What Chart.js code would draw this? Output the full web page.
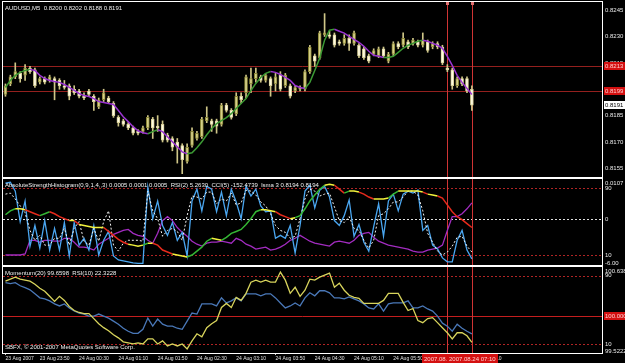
<!DOCTYPE html>
<html>
<head>
<meta charset="utf-8">
<script src="https://cdn.jsdelivr.net/npm/chart.js@4.4.0/dist/chart.umd.min.js"></script>
<style>
    html, body { margin: 0; padding: 0; background: #000; }
    #cadre { position: relative; width: 625px; height: 363px; background: #000; overflow: hidden; }
    canvas { position: absolute; left: 0; }
</style>
</head>
<body>
<div id="cadre">
    <canvas id="grPrix" width="625" height="178" style="top:0px"></canvas>
    <canvas id="grForce" width="625" height="88" style="top:178px"></canvas>
    <canvas id="grMomentum" width="625" height="97" style="top:266px"></canvas>
</div>
<script>
// ==========================================================================
//   Données lues sur la capture MT4 (AUDUSD M5, 23-24 août 2007)
// ==========================================================================

const heures = [
    '23:15','23:20','23:25','23:30','23:35','23:40','23:45','23:50','23:55',
    '00:00','00:05','00:10','00:15','00:20','00:25','00:30','00:35','00:40','00:45','00:50','00:55',
    '01:00','01:05','01:10','01:15','01:20','01:25','01:30','01:35','01:40','01:45','01:50','01:55',
    '02:00','02:05','02:10','02:15','02:20','02:25','02:30','02:35','02:40','02:45','02:50','02:55',
    '03:00','03:05','03:10','03:15','03:20','03:25','03:30','03:35','03:40','03:45','03:50','03:55',
    '04:00','04:05','04:10','04:15','04:20','04:25','04:30','04:35','04:40','04:45','04:50','04:55',
    '05:00','05:05','05:10','05:15','05:20','05:25','05:30','05:35','05:40','05:45','05:50','05:55',
    '06:00','06:05','06:10','06:15','06:20','06:25','06:30','06:35','06:40','06:45','06:50','06:55',
    '07:00','07:05','07:10'
];
const barresVides = 26;   // place libre à droite de la dernière bougie

const ouvertures = [
    .8197,.8203,.8207,.8209,.8208,.8212,.8211,.8204,.8206,.8205,.8206,.8205,.8202,.8202,.8200,.8199,
    .8196,.8199,.8196,.8190,.8194,.8195,.8192,.8184,.8182,.8180,.8178,.8176,.8176,.8178,.8183,.8179,
    .8180,.8174,.8172,.8170,.8168,.8159,.8168,.8172,.8173,.8182,.8182,.8182,.8180,.8191,.8188,.8186,
    .8196,.8198,.8203,.8206,.8207,.8205,.8206,.8203,.8208,.8202,.8202,.8199,.8200,.8200,.8210,.8219,
    .8218,.8231,.8231,.8231,.8227,.8226,.8229,.8226,.8225,.8223,.8219,.8220,.8219,.8223,.8216,.8220,
    .8226,.8225,.8227,.8226,.8227,.8225,.8227,.8224,.8226,.8224,.8212,.8211,.8202,.8206,.8206,.8200
];
const plusHauts = [
    .8203,.8208,.8215,.8210,.8214,.8213,.8212,.8207,.8207,.8208,.8207,.8206,.8205,.8203,.8202,.8200,
    .8198,.8200,.8197,.8195,.8200,.8196,.8193,.8185,.8183,.8181,.8179,.8177,.8179,.8185,.8184,.8185,
    .8182,.8175,.8173,.8172,.8169,.8169,.8178,.8176,.8184,.8190,.8183,.8183,.8192,.8192,.8189,.8198,
    .8198,.8208,.8212,.8212,.8208,.8209,.8207,.8209,.8210,.8209,.8203,.8202,.8202,.8211,.8225,.8220,
    .8233,.8243,.8233,.8232,.8228,.8231,.8231,.8233,.8226,.8224,.8220,.8223,.8224,.8224,.8221,.8227,
    .8227,.8232,.8228,.8229,.8228,.8232,.8228,.8227,.8227,.8225,.8214,.8212,.8207,.8207,.8207,.8202
];
const plusBas = [
    .8196,.8202,.8206,.8204,.8205,.8209,.8201,.8203,.8203,.8204,.8194,.8200,.8200,.8194,.8197,.8195,
    .8194,.8196,.8188,.8189,.8193,.8192,.8184,.8179,.8179,.8177,.8174,.8174,.8175,.8177,.8172,.8176,
    .8170,.8170,.8165,.8158,.8152,.8158,.8167,.8171,.8172,.8181,.8176,.8175,.8179,.8187,.8183,.8185,
    .8192,.8195,.8198,.8204,.8204,.8204,.8196,.8199,.8199,.8201,.8195,.8198,.8199,.8199,.8209,.8213,
    .8217,.8230,.8229,.8224,.8225,.8225,.8222,.8225,.8218,.8217,.8215,.8219,.8218,.8218,.8215,.8219,
    .8223,.8224,.8223,.8225,.8224,.8224,.8221,.8223,.8223,.8214,.8210,.8200,.8201,.8202,.8198,.8188
];
const clotures = [
    .8202,.8207,.8210,.8206,.8212,.8210,.8202,.8206,.8204,.8207,.8204,.8202,.8201,.8196,.8198,.8196,
    .8195,.8197,.8193,.8194,.8198,.8193,.8185,.8181,.8180,.8178,.8175,.8175,.8178,.8184,.8178,.8178,
    .8171,.8171,.8167,.8167,.8160,.8167,.8176,.8175,.8183,.8184,.8180,.8179,.8191,.8188,.8184,.8196,
    .8194,.8207,.8206,.8209,.8205,.8208,.8202,.8207,.8200,.8208,.8196,.8201,.8201,.8210,.8224,.8216,
    .8232,.8232,.8230,.8225,.8226,.8229,.8226,.8232,.8219,.8218,.8216,.8222,.8223,.8219,.8220,.8226,
    .8224,.8229,.8224,.8228,.8225,.8228,.8222,.8226,.8224,.8215,.8211,.8202,.8206,.8203,.8199,.8191
];
// moyenne colorée (vert = hausse, violet = baisse)
const moyenneMobile = [
    .82010,.82050,.82079,.82096,.82107,.82113,.82107,.82079,.82061,.82050,.82044,.82039,.82027,.82010,.81993,.81976,
    .81964,.81959,.81947,.81930,.81924,.81919,.81913,.81879,.81844,.81816,.81787,.81764,.81753,.81747,.81759,.81770,
    .81759,.81730,.81701,.81673,.81644,.81633,.81639,.81667,.81701,.81741,.81776,.81804,.81821,.81839,.81861,.81890,
    .81919,.81947,.81993,.82033,.82067,.82090,.82101,.82096,.82084,.82067,.82050,.82021,.82010,.82004,.82039,.82107,
    .82176,.82279,.82336,.82341,.82330,.82319,.82301,.82284,.82267,.82244,.82216,.82193,.82187,.82181,.82181,.82187,
    .82210,.82233,.82250,.82261,.82273,.82279,.82273,.82261,.82250,.82233,.82187,.82136,.82079,.82039,.82004,.81970
];
const ticksPrix = [0.8155, 0.8170, 0.8185, 0.8200, 0.8215, 0.8230, 0.8245];
const niveauxPrix = [0.8213, 0.8199];
const prixActuel = 0.8191;

// fenêtre 2 : RSI(2), CCI(5), histogramme de force (lissé), courbe violette
const rsi2 = [
    95.9,97.1,86.5,50.0,74.7,20.6,45.3,18.2,51.2,15.9,41.8,15.9,48.8,8.8,48.8,21.8,
    30.0,15.9,45.3,10.0,27.6,38.2,8.8,4.1,2.9,1.8,0.6,0,0,91.2,53.5,74.7,
    45.3,33.5,48.8,27.6,37.1,8.8,74.7,88.8,62.9,92.4,88.8,61.8,85.3,57.1,88.8,73.5,
    53.5,92.4,80.6,88.8,68.8,61.8,62.9,30.0,33.5,30.0,45.3,12.4,45.3,86.5,93.5,66.5,
    87.6,92.4,79.4,51.2,45.3,57.1,75.9,32.4,46.5,25.3,14.7,44.1,71.2,32.4,74.7,82.9,
    62.9,82.9,86.5,84.1,87.6,39.4,45.3,21.8,17.1,6.5,1.8,1.8,27.6,39.4,15.9,5.3
];
const cci5 = [
    82.9,84.1,77.1,68.8,60.6,39.4,27.6,33.5,21.8,21.8,30.0,30.0,41.8,21.8,41.8,50.0,
    26.5,21.8,41.8,26.5,50.0,62.9,21.8,14.7,24.1,27.6,27.6,27.6,26.5,86.5,62.9,53.5,
    32.4,39.4,41.8,38.2,27.6,57.1,80.6,79.4,77.1,85.3,85.3,71.2,77.1,74.7,84.1,70.0,
    72.4,87.6,86.5,81.8,73.5,68.8,59.4,45.3,39.4,37.1,30.0,32.4,53.5,77.1,88.8,86.5,
    80.6,82.9,84.1,67.6,51.2,48.8,55.9,41.8,39.4,27.6,18.2,27.6,57.1,59.4,65.3,73.5,
    73.5,79.4,86.5,86.5,81.8,62.9,35.9,25.3,14.7,10.0,13.5,20.6,31.2,32.4,20.6,13.5
];
const forceLissee = [
    58.2,62.9,65.3,65.3,64.1,61.8,59.4,57.1,59.4,61.8,59.4,55.9,53.5,51.2,51.2,46.5,
    45.3,44.1,42.9,42.9,42.9,38.2,33.5,28.8,25.3,22.9,21.8,20.6,21.8,24.1,24.1,21.8,
    15.9,13.5,11.2,10.0,8.8,7.6,10.0,14.7,19.4,26.5,30.0,28.8,27.6,31.2,35.9,38.2,
    40.6,46.5,53.5,61.8,64.1,64.1,62.9,61.8,58.2,55.9,53.5,54.7,57.1,65.3,74.7,81.8,
    88.8,93.5,94.7,93.5,88.8,84.1,86.5,86.5,85.3,82.9,79.4,77.1,77.1,77.1,78.2,82.9,
    86.5,86.5,86.5,86.5,86.5,85.3,82.9,81.8,80.6,78.2,70.0,61.8,55.9,52.4,47.6,42.9
];
const courbeViolette = [
    10.0,10.0,10.0,10.0,11.2,27.6,27.6,25.3,27.6,27.6,26.5,26.5,30.0,30.0,25.3,19.4,
    19.4,18.2,15.9,22.9,26.5,30.0,34.7,37.1,39.4,40.6,35.9,33.5,32.4,27.6,24.1,35.9,
    51.2,55.9,51.2,42.9,37.1,32.4,26.5,22.9,20.6,24.1,25.3,25.3,26.5,25.3,24.1,30.0,
    27.6,22.9,20.6,17.1,18.2,19.4,15.9,17.1,19.4,22.9,27.6,30.0,33.5,30.0,26.5,24.1,
    22.9,21.8,20.6,25.3,26.5,25.3,24.1,27.6,33.5,35.9,37.1,31.2,26.5,24.1,21.8,20.6,
    19.4,18.2,17.1,14.7,13.5,13.5,15.9,17.1,18.2,21.8,39.4,55.9,55.9,59.4,65.3,72.4
];
const ticksForce = [90, 53, 10];
const libellesForce = ['90', '0', '10'];
const extremesForce = ['0.0107', '-6.00'];

// fenêtre 3 : Momentum(20) et RSI(10)
const momentum20 = [
    100.455,100.481,100.507,100.481,100.468,100.455,100.415,100.363,100.323,100.258,100.192,100.258,100.205,100.126,100.074,100.048,
    100.034,100.034,99.969,99.903,99.851,99.811,99.759,99.719,99.667,99.654,99.640,99.654,99.640,99.706,99.706,99.640,
    99.680,99.614,99.640,99.614,99.640,99.575,99.680,99.772,99.733,99.851,99.903,99.943,100.113,100.166,100.113,100.245,
    100.205,100.297,100.442,100.468,100.442,100.468,100.442,100.442,100.573,100.468,100.297,100.376,100.258,100.337,100.481,100.468,
    100.507,100.534,100.560,100.376,100.429,100.337,100.271,100.245,100.232,100.166,100.166,100.166,100.166,100.205,100.297,100.297,
    100.297,100.179,100.074,100.100,99.943,99.916,99.969,99.982,99.916,99.851,99.785,99.706,99.785,99.785,99.746,99.660
];
const rsi10 = [
    81.8,80.6,81.8,78.2,75.9,73.5,68.8,64.1,62.9,60.6,57.1,54.7,57.1,52.4,48.8,46.5,
    45.3,42.9,42.9,45.3,42.9,40.6,37.1,33.5,28.8,25.3,22.9,22.9,27.6,40.6,31.2,39.4,
    33.5,31.2,31.2,28.8,27.6,37.1,46.5,45.3,57.1,57.1,57.1,54.7,64.1,58.2,60.6,64.1,
    60.6,68.8,68.8,68.8,66.5,68.8,68.8,64.1,58.2,52.4,54.7,58.2,54.7,64.1,70.0,66.5,
    72.4,72.4,70.0,64.1,64.1,62.9,65.3,62.9,60.6,57.1,52.4,51.2,57.1,48.8,57.1,58.2,
    58.2,58.2,60.6,52.4,52.4,54.7,51.2,48.8,42.9,34.7,31.2,25.3,33.5,28.8,25.3,22.3
];
const momentumMin = 99.5222, momentumMax = 100.6387;

// axe du temps
const positionsTicksX = [0, 7, 15, 23, 31, 39, 47, 55, 63, 71, 79, 87, 95];
const texteTicksX = ['23 Aug 2007', '23 Aug 23:50', '24 Aug 00:30', '24 Aug 01:10', '24 Aug 01:50',
    '24 Aug 02:30', '24 Aug 03:10', '24 Aug 03:50', '24 Aug 04:30', '24 Aug 05:10', '24 Aug 05:50',
    '24 Aug 06:30', '24 Aug 07:10'];
const barresVerticales = [90, 95];
const datesVerticales = ['2007.08.24 06:45', '2007.08.24 07:10'];

const etiquettes = heures.concat(Array(barresVides).fill(''));

// ==========================================================================
//   Réglages communs
// ==========================================================================

Chart.defaults.font.family = '"Liberation Sans", Arial, sans-serif';
Chart.defaults.font.size = 6;
Chart.defaults.color = '#e8e8e8';

const POLICE = '6px "Liberation Sans", Arial, sans-serif';
const LARGEUR_AXE = 23;

// trace cadres, niveaux, lignes verticales, titres et étiquettes en boîte
const decor = {
    id: 'decor',
    beforeDatasetsDraw(chart, args, opts) {
        const { ctx, chartArea: a, scales } = chart;
        ctx.save();
        ctx.lineWidth = 1;
        (opts.niveaux || []).forEach(n => {
            const y = Math.round(scales[n.axe].getPixelForValue(n.valeur)) + 0.5;
            ctx.strokeStyle = n.couleur;
            ctx.setLineDash(n.tirets || []);
            ctx.beginPath(); ctx.moveTo(a.left, y); ctx.lineTo(a.right, y); ctx.stroke();
        });
        ctx.setLineDash([]);
        ctx.fillStyle = '#d03434';
        barresVerticales.forEach(i => {
            const x = Math.round(scales.x.getPixelForValue(i));
            ctx.fillRect(x, a.top, 1, a.height);
        });
        ctx.restore();
    },
    afterDraw(chart, args, opts) {
        const { ctx, chartArea: a, scales } = chart;
        ctx.save();
        ctx.strokeStyle = '#ffffff';
        ctx.lineWidth = 1;
        ctx.strokeRect(a.left - 0.5, a.top - 0.5, a.width + 1, a.height + 1);

        ctx.font = POLICE;
        ctx.textBaseline = 'top';
        ctx.fillStyle = '#f0f0f0';
        if (opts.titre) ctx.fillText(opts.titre, a.left + 2, a.top + 3);
        if (opts.pied) ctx.fillText(opts.pied, a.left + 2, a.bottom - 9);

        // repères en haut des lignes verticales
        if (opts.reperes) {
            ctx.fillStyle = '#e07070';
            barresVerticales.forEach(i => {
                const x = Math.round(scales.x.getPixelForValue(i));
                ctx.fillRect(x - 1, a.top, 3, 3);
            });
        }

        // textes en haut / en bas de l'échelle de droite
        ctx.fillStyle = '#e8e8e8';
        if (opts.haut) { ctx.textBaseline = 'top'; ctx.fillText(opts.haut, a.right + 3, a.top + 1); }
        if (opts.bas) { ctx.textBaseline = 'bottom'; ctx.fillText(opts.bas, a.right + 3, a.bottom + 1); }

        // étiquettes en boîte sur l'échelle de droite
        ctx.textBaseline = 'middle';
        (opts.boites || []).forEach(b => {
            const y = Math.round(scales[b.axe].getPixelForValue(b.valeur));
            const w = ctx.measureText(b.texte).width + 3;
            ctx.fillStyle = b.fond;
            ctx.fillRect(a.right + 2, y - 4, Math.max(w, 21), 8);
            ctx.fillStyle = b.encre;
            ctx.fillText(b.texte, a.right + 3, y);
        });

        // dates en boîte rouge sous les lignes verticales
        if (opts.datesBas) {
            ctx.textBaseline = 'middle';
            barresVerticales.forEach((i, k) => {
                const x = scales.x.getPixelForValue(i);
                const w = ctx.measureText(datesVerticales[k]).width + 4;
                ctx.fillStyle = '#d41010';
                ctx.fillRect(Math.round(x - w / 2), a.bottom + 1, Math.round(w), 9);
                ctx.fillStyle = '#ffd0d0';
                ctx.fillText(datesVerticales[k], Math.round(x - w / 2) + 2, a.bottom + 6);
            });
        }
        ctx.restore();
    }
};

function axeX(visible) {
    return {
        type: 'category',
        offset: true,
        display: visible,
        grid: {
            display: visible, drawOnChartArea: false, drawTicks: true, tickLength: 2, offset: false,
            color: c => positionsTicksX.includes(c.index) ? '#d0d0d0' : 'rgba(0,0,0,0)'
        },
        border: { display: false },
        ticks: {
            autoSkip: false, maxRotation: 0, minRotation: 0, align: 'start', padding: 1,
            color: '#e0e0e0', font: { size: 5 },
            callback: (v, i) => {
                const k = positionsTicksX.indexOf(i);
                return k >= 0 ? texteTicksX[k] : null;
            }
        },
        afterFit: s => {
            s.height = visible ? 10 : 0;
            s.paddingLeft = 0;
            s.paddingRight = 0;
        }
    };
}

function axeDroit(min, max, valeurs, libelle) {
    return {
        position: 'right', min: min, max: max,
        grid: { display: false, drawTicks: false },
        border: { display: false },
        afterBuildTicks: s => { s.ticks = valeurs.map(v => ({ value: v })); },
        afterFit: s => {
            s.width = LARGEUR_AXE;
            s.paddingTop = 0;
            s.paddingBottom = 0;
        },
        ticks: { autoSkip: false, padding: 3, color: '#e8e8e8', font: { size: 6 }, callback: libelle }
    };
}

const optionsBase = {
    responsive: false,
    devicePixelRatio: 1,
    animation: false,
    events: [],
    plugins: { legend: { display: false }, tooltip: { enabled: false } }
};

// ==========================================================================
//   Fenêtre principale : bougies + moyenne colorée
// ==========================================================================

const CORPS_HAUSSE = '#d6d08a', BORD_HAUSSE = '#8a8636';
const CORPS_BAISSE = '#fffbe2', BORD_BAISSE = '#d8d09a';

new Chart(document.getElementById('grPrix'), {
    type: 'bar',
    data: {
        labels: etiquettes,
        datasets: [{
            type: 'line',
            data: moyenneMobile,
            borderWidth: 1.5,
            pointRadius: 0,
            segment: { borderColor: c => c.p1.parsed.y >= c.p0.parsed.y ? '#3c9a34' : '#9a34d0' },
            order: 0
        }, {
            data: plusBas.map((b, i) => [b, plusHauts[i]]),
            backgroundColor: '#cfc688',
            barThickness: 1,
            grouped: false,
            order: 2
        }, {
            data: ouvertures.map((o, i) => [o, clotures[i]]),
            backgroundColor: c => clotures[c.dataIndex] >= ouvertures[c.dataIndex] ? CORPS_HAUSSE : CORPS_BAISSE,
            borderColor: c => clotures[c.dataIndex] >= ouvertures[c.dataIndex] ? BORD_HAUSSE : BORD_BAISSE,
            borderWidth: 1,
            borderSkipped: false,
            barThickness: 3,
            minBarLength: 1,
            grouped: false,
            order: 1
        }]
    },
    options: {
        ...optionsBase,
        layout: { padding: { left: 3, top: 2, right: 0, bottom: 1 } },
        scales: {
            x: axeX(false),
            y: axeDroit(0.81501, 0.82496, ticksPrix, v => v.toFixed(4))
        },
        plugins: {
            ...optionsBase.plugins,
            decor: {
                titre: 'AUDUSD,M5  0.8200 0.8202 0.8188 0.8191',
                reperes: true,
                niveaux: niveauxPrix.map(v => ({ axe: 'y', valeur: v, couleur: '#94201e' })),
                boites: [
                    { axe: 'y', valeur: niveauxPrix[0], texte: niveauxPrix[0].toFixed(4), fond: '#d41010', encre: '#ffd0d0' },
                    { axe: 'y', valeur: niveauxPrix[1], texte: niveauxPrix[1].toFixed(4), fond: '#d41010', encre: '#ffd0d0' },
                    { axe: 'y', valeur: prixActuel, texte: prixActuel.toFixed(4), fond: '#ffffff', encre: '#000000' }
                ]
            }
        }
    },
    plugins: [decor]
});

// ==========================================================================
//   Fenêtre 2 : AbsoluteStrengthHistogram / RSI(2) / CCI(5)
// ==========================================================================

new Chart(document.getElementById('grForce'), {
    type: 'line',
    data: {
        labels: etiquettes,
        datasets: [{
            data: courbeViolette, borderColor: '#a22cc0', borderWidth: 1.3, pointRadius: 0, order: 4
        }, {
            data: rsi2, borderColor: '#4aa6f0', borderWidth: 1.3, pointRadius: 0, order: 3
        }, {
            data: cci5, borderColor: '#f4f4f4', borderWidth: 1, borderDash: [2, 2], pointRadius: 0, order: 2
        }, {
            data: forceLissee, borderWidth: 1.5, pointRadius: 0, order: 1,
            segment: {
                borderColor: c => {
                    const d = c.p1.parsed.y - c.p0.parsed.y;
                    return d > 1.5 ? '#34b634' : d < -1.5 ? '#e62a1c' : '#f2f23c';
                }
            }
        }]
    },
    options: {
        ...optionsBase,
        layout: { padding: { left: 3, top: 1, right: 0, bottom: 1 } },
        scales: {
            x: axeX(false),
            y: axeDroit(-2, 101, ticksForce, v => libellesForce[ticksForce.indexOf(v)])
        },
        plugins: {
            ...optionsBase.plugins,
            decor: {
                titre: 'AbsoluteStrengthHistogram(0,9,1,4,,3) 0.0005 0.0001 0.0005  RSI(2) 5.2630  CCI(5) -152.4739  lsma 3 0.8194 0.8194',
                haut: extremesForce[0],
                bas: extremesForce[1],
                niveaux: [
                    { axe: 'y', valeur: ticksForce[0], couleur: '#b02424', tirets: [2, 2] },
                    { axe: 'y', valeur: ticksForce[1], couleur: '#e0e0e0', tirets: [2, 2] },
                    { axe: 'y', valeur: ticksForce[2], couleur: '#b02424', tirets: [2, 2] }
                ]
            }
        }
    },
    plugins: [decor]
});

// ==========================================================================
//   Fenêtre 3 : Momentum(20) et RSI(10) + axe du temps
// ==========================================================================

new Chart(document.getElementById('grMomentum'), {
    type: 'line',
    data: {
        labels: etiquettes,
        datasets: [{
            data: rsi10, borderColor: '#4a78b8', borderWidth: 1.3, pointRadius: 0, yAxisID: 'y', order: 2
        }, {
            data: momentum20, borderColor: '#d8d45c', borderWidth: 1.3, pointRadius: 0, yAxisID: 'ym', order: 1
        }]
    },
    options: {
        ...optionsBase,
        layout: { padding: { left: 3, top: 1, right: 0, bottom: 0 } },
        scales: {
            x: axeX(true),
            y: axeDroit(0, 100, [90, 10], v => String(v)),
            ym: { display: false, min: momentumMin, max: momentumMax }
        },
        plugins: {
            ...optionsBase.plugins,
            decor: {
                titre: 'Momentum(20) 99.6598  RSI(10) 22.3228',
                pied: 'SBFX, \u00a9 2001-2007 MetaQuotes Software Corp.',
                haut: momentumMax.toFixed(4),
                bas: momentumMin.toFixed(4),
                datesBas: true,
                niveaux: [
                    { axe: 'y', valeur: 90, couleur: '#b02424', tirets: [2, 2] },
                    { axe: 'y', valeur: 10, couleur: '#b02424', tirets: [2, 2] },
                    { axe: 'ym', valeur: 100, couleur: '#c41e1e' }
                ],
                boites: [
                    { axe: 'ym', valeur: 100, texte: '100.0000', fond: '#d41010', encre: '#ffd0d0' }
                ]
            }
        }
    },
    plugins: [decor]
});
</script>
</body>
</html>
